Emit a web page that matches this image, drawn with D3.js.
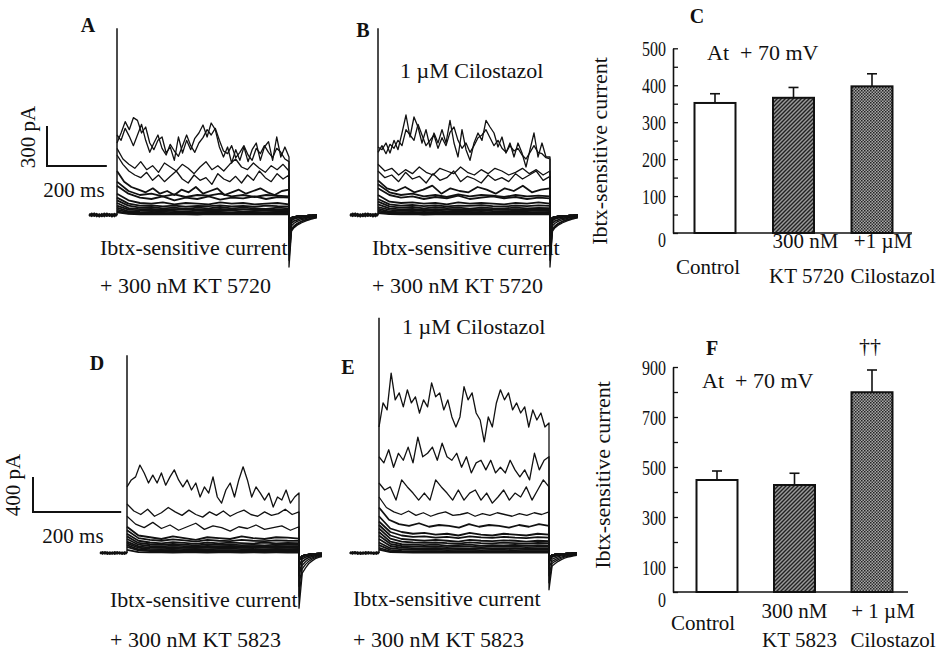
<!DOCTYPE html>
<html>
<head>
<meta charset="utf-8">
<script src="https://cdn.jsdelivr.net/npm/d3@7"></script>
<style>
  body { margin: 0; background: #fff; }
  svg { display: block; }
  text { font-family: "Liberation Serif", "Times New Roman", serif; fill: #111; }
</style>
</head>
<body>
<div id="fig"></div>
<script>
// ---- current traces (pA), sampled evenly over the voltage step ----
// the first `upper` rows of each panel are the large noisy traces
var stepA = [
  [540,615,700,640,730,710,615,660,540,490,560,585,465,510,410,585,465,560,490,575,615,675,585,690,640,510,435,510,390,490,410,510,400,490,540,410,510,550,410,585,435,510,435],
  [600,560,650,590,520,600,680,560,470,540,600,500,450,530,480,440,520,600,520,470,540,580,640,600,650,560,480,460,520,430,470,520,450,410,500,460,520,470,430,500,470,420,400],
  [500,420,380,350,400,340,370,320,390,360,330,380,350,310,360,400,340,370,330,380,420,360,340,390,350,320,370,340,380,330],
  [450,380,330,300,280,320,260,300,250,290,330,270,240,300,260,280,230,310,270,250,290,240,300,260,330,280,250,310,270,300],
  [330,250,210,190,170,200,160,180,150,190,170,210,160,180,200,150,170,190,160,180,200,170,150,180,190],
  [250,180,150,160,140,155,135,150,145,160,140,150,135,150,145,140],
  [220,160,130,120,140,110,130,120,140,115,130,125,140,120,135,130],
  [160,110,90,85,95,80,90,85,80,95,85,90,80,85,90,80],
  [130,85,70,72,65,70,62,68,66,72,64,68,62,70,66,64],
  [110,70,55,60,50,55,45,55,50,60,50,55,50,45,55,50],
  [90,52,44,46,40,44,38,42,41,45,40,42,39,43,41,40],
  [70,40,35,30,35,30,25,35,30,30,35,25,30,35,30,30],
  [55,28,24,22,25,20,23,21,24,22,20,23,21,22,24,21],
  [40,20,15,18,15,12,18,15,14,16,15,12,16,15,18,15],
  [28,12,10,11,9,10,8,11,10,9,11,10,9,10,11,9],
  [20,8,5,6,4,6,5,3,6,5,4,6,5,4,6,5]
];
var stepB = [
  [510,490,540,465,560,490,615,750,585,735,660,540,640,510,615,540,640,540,710,540,435,640,490,410,540,615,560,710,660,615,510,585,465,540,435,540,465,360,490,615,435,540,435,435],
  [470,520,460,530,500,560,520,640,600,560,680,600,520,560,600,500,580,520,620,660,560,500,540,470,520,580,600,640,580,520,560,500,470,520,480,500,450,420,470,520,470,460,430,420],
  [380,330,350,300,340,310,360,320,300,350,330,310,360,320,300,340,310,350,330,300,320,350,310,340,300,330],
  [330,280,300,250,320,270,290,240,310,260,280,330,250,290,270,240,300,260,280,250,310,270,300,330,260,290],
  [260,200,180,210,170,190,220,160,200,180,170,210,190,160,200,180,220,170,190,200],
  [230,170,150,160,140,150,135,155,140,150,145,135,150,140,145,140],
  [200,150,130,140,120,135,125,145,120,130,140,125,135,120,130,125],
  [150,100,90,95,85,90,80,95,85,90,85,80,90,85,95,85],
  [120,80,70,75,66,72,64,70,68,73,66,64,70,67,72,68],
  [100,65,55,60,50,58,52,55,48,56,52,50,55,50,54,52],
  [80,50,42,45,38,43,40,42,39,44,41,38,42,40,43,41],
  [60,38,32,35,30,33,28,32,30,34,30,28,32,30,33,30],
  [48,26,22,24,20,23,19,22,21,23,20,21,22,20,21,22],
  [35,18,15,17,14,16,13,16,15,17,14,15,16,14,15,16],
  [25,11,9,10,8,10,8,9,10,8,9,10,8,9,10,9],
  [15,6,4,6,3,5,4,6,5,4,5,6,4,5,4,5]
];
var stepD = [
  [755,835,870,1005,915,800,890,800,915,775,870,950,835,755,835,720,800,640,755,685,870,640,570,720,800,640,835,985,835,640,755,685,605,685,525,640,605,720,570,640,685],
  [560,480,440,500,420,460,520,470,430,490,440,410,470,430,480,420,460,490,440,420,470,430,450,500,440,470],
  [420,330,290,350,280,320,260,300,340,270,310,290,250,300,280,320,270,290,310,260,300],
  [300,200,180,160,190,170,150,180,170,160,190,170,160,180,175,165],
  [260,170,150,140,155,145,130,150,140,135,150,140,135,145,140,138],
  [220,140,120,110,125,115,105,120,110,118,112,108,120,110,115,112],
  [190,115,100,92,104,96,88,98,92,96,90,94,88,95,92,93],
  [160,95,80,75,85,78,72,80,76,82,75,78,74,80,76,78],
  [130,75,62,60,66,60,58,63,60,64,58,62,59,63,60,61],
  [110,60,48,45,50,44,48,42,46,50,44,46,42,48,45,46],
  [90,42,34,32,36,30,33,31,34,32,30,33,31,32,33,31],
  [70,30,22,20,24,18,22,20,19,23,20,18,22,20,21,20],
  [35,10,6,8,5,7,6,4,7,6,5,7,5,6,5,6]
];
var stepE = [
  [1440,1715,1635,2055,1750,1830,1670,1865,1715,1785,1600,1750,1670,1945,1785,1830,1635,1750,1555,1440,1555,1900,1750,1830,1600,1520,1270,1555,1440,1715,1865,1750,1830,1635,1715,1600,1670,1440,1635,1520,1600,1440,1485],
  [1100,1030,1180,980,1140,1060,1210,1030,1325,1100,1140,1210,1060,1255,1100,1060,1140,980,1100,915,1030,1060,950,1060,915,980,915,1060,950,870,950,835,1140,950,1060,1100],
  [800,720,755,605,835,755,685,605,685,605,835,755,685,605,720,605,685,720,605,685,570,640,720,605,685,640,755,605,720,835,755],
  [640,520,470,440,480,430,460,420,450,470,430,440,460,420,450,430,460,440,420,450,430,460,440,470],
  [520,380,330,310,340,300,320,310,290,330,300,320,310,290,320,300,330,310],
  [420,280,240,220,230,210,220,200,230,210,200,220,210,200,220,210],
  [360,240,200,185,190,175,185,170,190,178,172,185,176,170,182,176],
  [320,200,160,150,140,150,140,130,150,140,135,145,140,130,140,135],
  [280,165,130,120,115,120,112,108,122,114,110,118,114,108,115,112],
  [240,130,100,95,90,95,85,90,95,85,90,88,92,85,90,88],
  [200,105,80,75,70,74,68,72,74,68,72,70,73,68,71,70],
  [160,80,60,55,50,55,48,52,50,55,48,50,52,48,50,50],
  [120,55,42,38,35,38,33,36,37,34,36,35,33,36,37,35],
  [90,35,25,22,20,22,18,20,22,19,20,21,18,20,22,20],
  [60,20,14,12,13,11,12,13,11,12,13,11,12,13,11,12],
  [40,10,6,5,7,4,6,5,4,6,5,4,6,5,4,5]
];

// tail currents after repolarisation (pA)
var tailTop = [
  [-390,-120,-95,-80,-68,-58,-50,-42,-36,-30,-26,-22],
  [-340,-110,-88,-72,-60,-50,-43,-36,-31,-26,-22,-18],
  [-300,-100,-80,-65,-55,-45,-38,-32,-27,-22,-18,-15],
  [-220,-80,-62,-50,-42,-35,-30,-25,-20,-17,-14,-12],
  [-150,-60,-45,-38,-30,-25,-21,-18,-15,-12,-10,-8],
  [-90,-40,-30,-24,-20,-16,-13,-11,-9,-8,-6,-5],
  [-50,-22,-16,-13,-10,-8,-7,-6,-5,-4,-3,-3]
];
var tailD = [
  [-630,-230,-170,-120,-90,-65,-50,-40],
  [-500,-180,-130,-95,-70,-52,-40,-32],
  [-380,-140,-100,-72,-55,-42,-32,-25],
  [-260,-100,-72,-52,-40,-30,-23,-18],
  [-160,-65,-48,-35,-26,-20,-15,-12],
  [-80,-35,-25,-18,-14,-10,-8,-6]
];
var tailE = [
  [-420,-150,-120,-95,-75,-60,-48,-40,-33,-28],
  [-340,-120,-95,-75,-60,-48,-38,-31,-26,-22],
  [-260,-95,-75,-58,-46,-37,-30,-25,-20,-17],
  [-180,-70,-55,-42,-34,-27,-22,-18,-15,-12],
  [-110,-45,-35,-27,-21,-17,-14,-11,-9,-8],
  [-60,-25,-19,-15,-12,-9,-7,-6,-5,-4]
];
// holding-potential noise (pA)
var holdNoise = [
  [10,-8,12,-10,6,-9,11,-7,8,-11,9,-8],
  [-9,11,-7,9,-12,8,-10,11,-8,7,-10,9],
  [2,-3,4,-2,3,-4,2,-3,4,-2,3,-1]
];
// capacitive spike peak (pA) and protocol timing (ms), panels A B D E
var spikePeak = [1400, 1400, 2260, 2690];
var stepMs = [575, 575, 390, 385];
var holdMs = [93, 93, 61, 66];
var tailMs = [93, 93, 52, 63];
var scaleBarPA = [300, 400];
var scaleBarMs = 200;

// ---- bar charts ----
var labelsC = [["Control"], ["300 nM", "KT 5720"], ["+1 \u00b5M", "Cilostazol"]];
var meanC = [352, 366, 397];
var errC = [25, 28, 34];
var ticksC = [0, 100, 200, 300, 400, 500];
var labelsF = [["Control"], ["300 nM", "KT 5823"], ["+ 1 \u00b5M", "Cilostazol"]];
var meanF = [448, 428, 799];
var errF = [36, 47, 89];
var ticksF = [0, 100, 300, 500, 700, 900];

var svg = d3.select("#fig").append("svg")
    .attr("width", 943)
    .attr("height", 654);

var defs = svg.append("defs");
var hatch = defs.append("pattern").attr("id", "hatch")
    .attr("patternUnits", "userSpaceOnUse").attr("width", 4).attr("height", 4);
hatch.append("rect").attr("width", 4).attr("height", 4).attr("fill", "#9a9a9a");
hatch.append("path").attr("d", "M0,4L4,0M-1,1L1,-1M3,5L5,3")
    .attr("stroke", "#222").attr("stroke-width", 1.4);
var dots = defs.append("pattern").attr("id", "dots")
    .attr("patternUnits", "userSpaceOnUse").attr("width", 3).attr("height", 3);
dots.append("rect").attr("width", 3).attr("height", 3).attr("fill", "#a8a8a8");
dots.append("rect").attr("width", 1.5).attr("height", 1.5).attr("fill", "#222");
dots.append("rect").attr("x", 1.5).attr("y", 1.5).attr("width", 1.5).attr("height", 1.5).attr("fill", "#333");

// ---- draw the trace panels ----
var panels = [
  {step: stepA, tail: tailTop, upper: 4, x0: 117, x1: 289, y0: 215, bar: 0, barPx: 40},
  {step: stepB, tail: tailTop, upper: 4, x0: 378, x1: 550, y0: 215, bar: 0, barPx: 40},
  {step: stepD, tail: tailD,   upper: 3, x0: 127, x1: 299, y0: 553, bar: 1, barPx: 35},
  {step: stepE, tail: tailE,   upper: 4, x0: 379, x1: 549, y0: 553, bar: 1, barPx: 35}
];

panels.forEach(function(p, i) {
    var x = d3.scaleLinear().domain([0, stepMs[i]]).range([p.x0, p.x1]);
    var y = d3.scaleLinear().domain([0, scaleBarPA[p.bar]]).range([p.y0, p.y0 - p.barPx]);
    p.x = x; p.y = y;
    var line = d3.line().x(function(d) { return x(d[0]); }).y(function(d) { return y(d[1]); });
    var g = svg.append("g").attr("fill", "none").attr("stroke", "#111")
        .attr("stroke-linejoin", "round");

    // holding current
    holdNoise.forEach(function(h) {
        var pts = h.map(function(v, j) { return [-holdMs[i] + j * holdMs[i] / (h.length - 1), v]; });
        g.append("path").attr("d", line(pts)).attr("stroke-width", 2);
    });

    // capacitive spike at step onset
    g.append("line")
        .attr("x1", x(0)).attr("x2", x(0))
        .attr("y1", y(0)).attr("y2", y(spikePeak[i]))
        .attr("stroke-width", 1.5);

    // step + tail for each trace
    p.step.forEach(function(s, k) {
        var tl = p.tail[Math.min(k, p.tail.length - 1)];
        var pts = s.map(function(v, j) { return [j * stepMs[i] / (s.length - 1), v]; });
        tl.forEach(function(v, j) {
            pts.push([stepMs[i] + j * tailMs[i] / (tl.length - 1), v]);
        });
        g.append("path").attr("d", line(pts))
            .attr("stroke-width", k < p.upper ? 1.3 : 1.8);
    });
});

// scale bars (use panel A and D scales)
[{p: panels[0], x: 47, y: 166, lab: "300 pA", lx: 35, ly: 137, tx: 74, ty: 197},
 {p: panels[2], x: 33, y: 512, lab: "400 pA", lx: 20, ly: 485, tx: 73, ty: 543}].forEach(function(s) {
    var h = s.p.y(0) - s.p.y(scaleBarPA[s.p.bar]);
    var w = s.p.x(scaleBarMs) - s.p.x(0);
    svg.append("path")
        .attr("d", "M" + s.x + "," + (s.y - h) + "V" + s.y + "H" + (s.x + w))
        .attr("fill", "none").attr("stroke", "#111").attr("stroke-width", 2);
    svg.append("text").attr("transform", "translate(" + s.lx + "," + s.ly + ") rotate(-90)")
        .attr("text-anchor", "middle").attr("font-size", 21).text(s.lab);
    svg.append("text").attr("x", s.tx).attr("y", s.ty)
        .attr("text-anchor", "middle").attr("font-size", 21).text(scaleBarMs + " ms");
});

// ---- bar charts ----
var charts = [
  {mean: meanC, err: errC, labels: labelsC, ticks: ticksC, max: 500, minor: 50,
   ax: 673, axEnd: 912, y0: 233, yTop: 48.3, c0: 715, c1: 872,
   lab: [[-7], [12, 13], [11, 21]], one: 274, two: [248, 283], ylx: 607, yly: 151, zero: "0.65em"},
  {mean: meanF, err: errF, labels: labelsF, ticks: ticksF, max: 900, minor: 100,
   ax: 673, axEnd: 908, y0: 592, yTop: 367, c0: 717, c1: 872,
   lab: [[-14], [0, 5], [11, 21]], one: 630, two: [618, 647], ylx: 610, yly: 475, zero: "0.7em"}
];
var fills = ["#fff", "url(#hatch)", "url(#dots)"];
var barW = 41;

charts.forEach(function(c) {
    var y = d3.scaleLinear().domain([0, c.max]).range([c.y0, c.yTop]);
    var x = d3.scalePoint().domain([0, 1, 2]).range([c.c0, c.c1]);

    var axis = d3.axisLeft(y)
        .tickValues(d3.range(0, c.max + 1, c.minor))
        .tickSizeInner(-5).tickSizeOuter(0).tickPadding(7)
        .tickFormat(function(d) { return c.ticks.indexOf(d) >= 0 ? d : ""; });
    var ga = svg.append("g").attr("transform", "translate(" + c.ax + ",0)").call(axis);
    ga.select(".domain").attr("stroke", "#111").attr("stroke-width", 1.6);
    ga.selectAll(".tick line").attr("stroke", "#111").attr("stroke-width", 1.3);
    ga.selectAll(".tick text")
        .attr("font-family", "Liberation Serif, Times New Roman, serif")
        .attr("font-size", 21).attr("fill", "#111")
        .attr("dy", function(d) { return d === 0 ? c.zero : "0.35em"; })
        .each(function(d) {
            var t = String(this.textContent);
            if (t.length) d3.select(this).attr("textLength", t.length * 8).attr("lengthAdjust", "spacingAndGlyphs");
        });

    svg.append("line").attr("x1", c.ax).attr("x2", c.axEnd)
        .attr("y1", c.y0).attr("y2", c.y0)
        .attr("stroke", "#111").attr("stroke-width", 1.6);

    c.mean.forEach(function(m, i) {
        var cx = x(i);
        svg.append("line").attr("x1", cx).attr("x2", cx)
            .attr("y1", y(m)).attr("y2", y(m + c.err[i]))
            .attr("stroke", "#111").attr("stroke-width", 1.6);
        svg.append("line").attr("x1", cx - 5).attr("x2", cx + 5)
            .attr("y1", y(m + c.err[i])).attr("y2", y(m + c.err[i]))
            .attr("stroke", "#111").attr("stroke-width", 1.6);
        svg.append("rect")
            .attr("x", cx - barW / 2).attr("width", barW)
            .attr("y", y(m)).attr("height", y(0) - y(m))
            .attr("fill", fills[i]).attr("stroke", "#111").attr("stroke-width", 2);

        c.labels[i].forEach(function(t, j) {
            svg.append("text")
                .attr("x", cx + c.lab[i][j])
                .attr("y", c.labels[i].length === 1 ? c.one : c.two[j])
                .attr("text-anchor", "middle").attr("font-size", 21)
                .text(t);
        });
    });

    svg.append("text").attr("transform", "translate(" + c.ylx + "," + c.yly + ") rotate(-90)")
        .attr("text-anchor", "middle").attr("font-size", 22).text("Ibtx-sensitive current");
});

// ---- annotations ----
var notes = [
  {t: "A", x: 88, y: 32, b: 1}, {t: "B", x: 363, y: 37, b: 1}, {t: "C", x: 697, y: 23, b: 1},
  {t: "D", x: 97, y: 370, b: 1}, {t: "E", x: 348, y: 374, b: 1}, {t: "F", x: 712, y: 355, b: 1},
  {t: "1 \u00b5M Cilostazol", x: 400, y: 78, a: "start"},
  {t: "1 \u00b5M Cilostazol", x: 402, y: 334, a: "start"},
  {t: "Ibtx-sensitive current", x: 100, y: 255, a: "start"},
  {t: "Ibtx-sensitive current", x: 372, y: 255, a: "start"},
  {t: "Ibtx-sensitive current", x: 110, y: 607, a: "start"},
  {t: "Ibtx-sensitive current", x: 353, y: 606, a: "start"},
  {t: "+ 300 nM KT 5720", x: 100, y: 293, a: "start"},
  {t: "+ 300 nM KT 5720", x: 372, y: 293, a: "start"},
  {t: "+ 300 nM KT 5823", x: 110, y: 647, a: "start"},
  {t: "+ 300 nM KT 5823", x: 353, y: 647, a: "start"},
  {t: "At\u00a0 + 70 mV", x: 707, y: 60, a: "start"},
  {t: "At\u00a0 + 70 mV", x: 702, y: 388, a: "start"},
  {t: "\u2020\u2020", x: 870, y: 353}
];
svg.selectAll("text.note").data(notes).enter().append("text")
    .attr("class", "note")
    .attr("x", function(d) { return d.x; })
    .attr("y", function(d) { return d.y; })
    .attr("text-anchor", function(d) { return d.a || "middle"; })
    .attr("font-size", function(d) { return d.b ? 20 : 22; })
    .attr("font-weight", function(d) { return d.b ? "bold" : null; })
    .text(function(d) { return d.t; });
</script>
</body>
</html>
